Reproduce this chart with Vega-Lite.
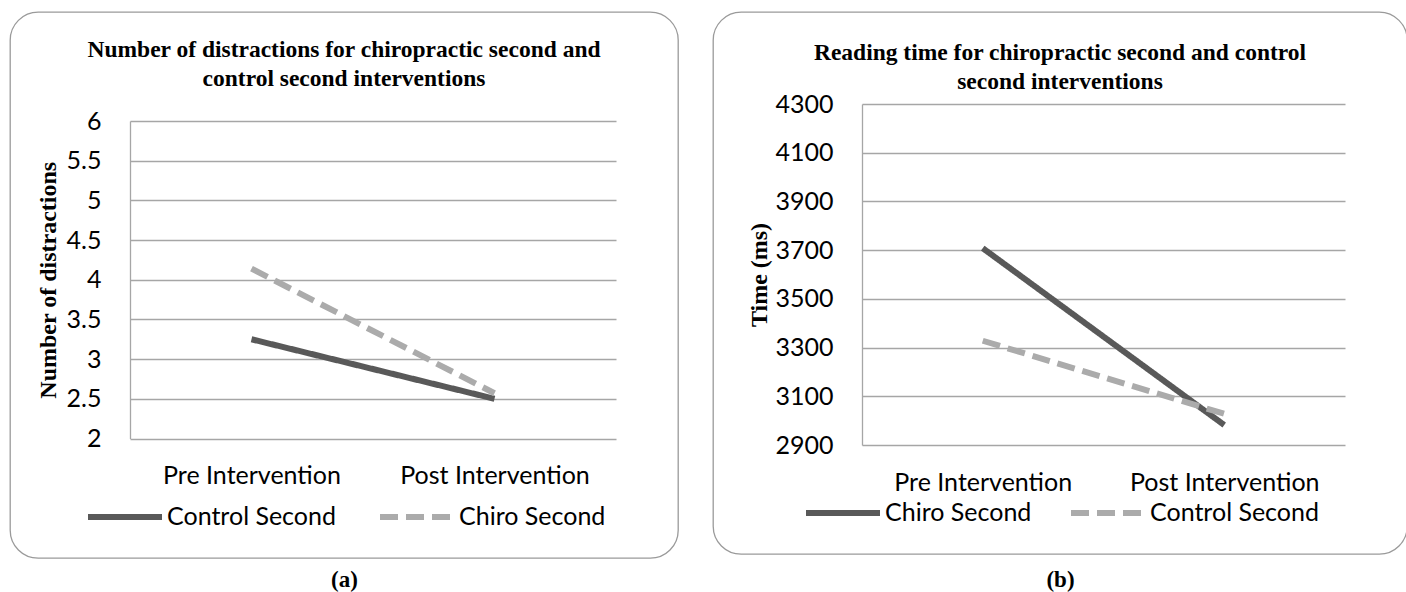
{
  "$schema": "https://vega.github.io/schema/vega-lite/v6.json",
  "padding": {"left": 9, "top": 11, "right": 2, "bottom": 0},
  "background": "white",
  "spacing": 33,
  "datasets": {
    "distractions": [
      {"phase": "Pre Intervention", "series": "Control Second", "value": 3.25},
      {"phase": "Post Intervention", "series": "Control Second", "value": 2.5},
      {"phase": "Pre Intervention", "series": "Chiro Second", "value": 4.14},
      {"phase": "Post Intervention", "series": "Chiro Second", "value": 2.57}
    ],
    "reading": [
      {"phase": "Pre Intervention", "series": "Chiro Second", "value": 3708},
      {"phase": "Post Intervention", "series": "Chiro Second", "value": 2982},
      {"phase": "Pre Intervention", "series": "Control Second", "value": 3328},
      {"phase": "Post Intervention", "series": "Control Second", "value": 3028}
    ]
  },
  "hconcat": [
    {
      "width": 668,
      "height": 546,
      "data": {"name": "distractions"},
      "title": {"text": ["Number of distractions for chiropractic second and", "control second interventions"], "offset": -78},
      "mark": {"type": "line", "strokeWidth": 6},
      "encoding": {
        "x": {
          "field": "phase", "type": "nominal",
          "sort": ["Pre Intervention", "Post Intervention"],
          "scale": {"type": "point", "padding": 0.5, "range": [120, 606]},
          "axis": {"title": "(a)", "offset": -119.5, "titleX": 334, "titleY": 140.5}
        },
        "y": {
          "field": "value", "type": "quantitative",
          "scale": {"domain": [2, 6], "range": [426.5, 109], "nice": false, "zero": false},
          "axis": {"title": "Number of distractions", "values": [2, 2.5, 3, 3.5, 4, 4.5, 5, 5.5, 6], "format": "~g", "offset": -120, "titleX": -82, "titleY": 267.75}
        },
        "color": {
          "field": "series", "type": "nominal",
          "scale": {"domain": ["Control Second", "Chiro Second"], "range": ["#595959", "#ababab"]},
          "legend": {"title": null, "legendX": 75, "legendY": 465, "columnPadding": 32}
        },
        "strokeDash": {
          "field": "series", "type": "nominal",
          "scale": {"domain": ["Control Second", "Chiro Second"], "range": [[1, 0], [18, 8]]},
          "legend": {"title": null, "legendX": 75, "legendY": 465, "columnPadding": 32}
        }
      }
    },
    {
      "width": 694,
      "height": 542,
      "data": {"name": "reading"},
      "title": {"text": ["Reading time for chiropractic second and control", "second interventions"], "offset": -81},
      "mark": {"type": "line", "strokeWidth": 6},
      "encoding": {
        "x": {
          "field": "phase", "type": "nominal",
          "sort": ["Pre Intervention", "Post Intervention"],
          "scale": {"type": "point", "padding": 0.5, "range": [149, 632]},
          "axis": {"title": "(b)", "offset": -109, "titleX": 347, "titleY": 134}
        },
        "y": {
          "field": "value", "type": "quantitative",
          "scale": {"domain": [2900, 4300], "range": [433, 92], "nice": false, "zero": false},
          "axis": {"title": "Time (ms)", "values": [2900, 3100, 3300, 3500, 3700, 3900, 4100, 4300], "format": "d", "offset": -149, "titleX": -103, "titleY": 262.5}
        },
        "color": {
          "field": "series", "type": "nominal",
          "scale": {"domain": ["Chiro Second", "Control Second"], "range": ["#595959", "#ababab"]},
          "legend": {"title": null, "legendX": 90, "legendY": 461, "columnPadding": 27}
        },
        "strokeDash": {
          "field": "series", "type": "nominal",
          "scale": {"domain": ["Chiro Second", "Control Second"], "range": [[1, 0], [18, 8]]},
          "legend": {"title": null, "legendX": 90, "legendY": 461, "columnPadding": 27}
        }
      }
    }
  ],
  "resolve": {
    "scale": {"x": "independent", "y": "independent", "color": "independent", "strokeDash": "independent"},
    "legend": {"color": "independent", "strokeDash": "independent"}
  },
  "config": {
    "view": {"stroke": "#9a9a9a", "strokeWidth": 1.3, "cornerRadius": 28, "fill": "white"},
    "title": {"font": "Liberation Serif", "fontSize": 23.5, "fontWeight": "bold", "color": "#000000", "lineHeight": 29, "anchor": "middle", "frame": "group"},
    "axis": {
      "labelFont": "Lato", "labelFontSize": 25, "labelColor": "#000000", "labelLimit": 400,
      "ticks": false, "tickSize": 0, "labelPadding": 25,
      "titleFont": "Liberation Serif", "titleFontWeight": "bold", "titleColor": "#000000", "titleFontSize": 24,
      "gridColor": "#a6a6a6", "gridWidth": 1.3, "domainColor": "#a6a6a6", "domainWidth": 1.3
    },
    "axisX": {"grid": false, "domain": false, "labelAngle": 0, "titleBaseline": "middle", "titleAlign": "center", "titleFontSize": 23},
    "axisY": {"grid": true, "domain": true, "titleAngle": 270, "titleBaseline": "middle", "titleAlign": "center", "labelPadding": 29},
    "legend": {
      "orient": "none", "direction": "horizontal",
      "symbolType": "stroke", "symbolSize": 5476, "symbolStrokeWidth": 6,
      "labelFont": "Lato", "labelFontSize": 25, "labelColor": "#000000",
      "labelOffset": 2, "labelLimit": 400, "padding": 0
    }
  }
}
